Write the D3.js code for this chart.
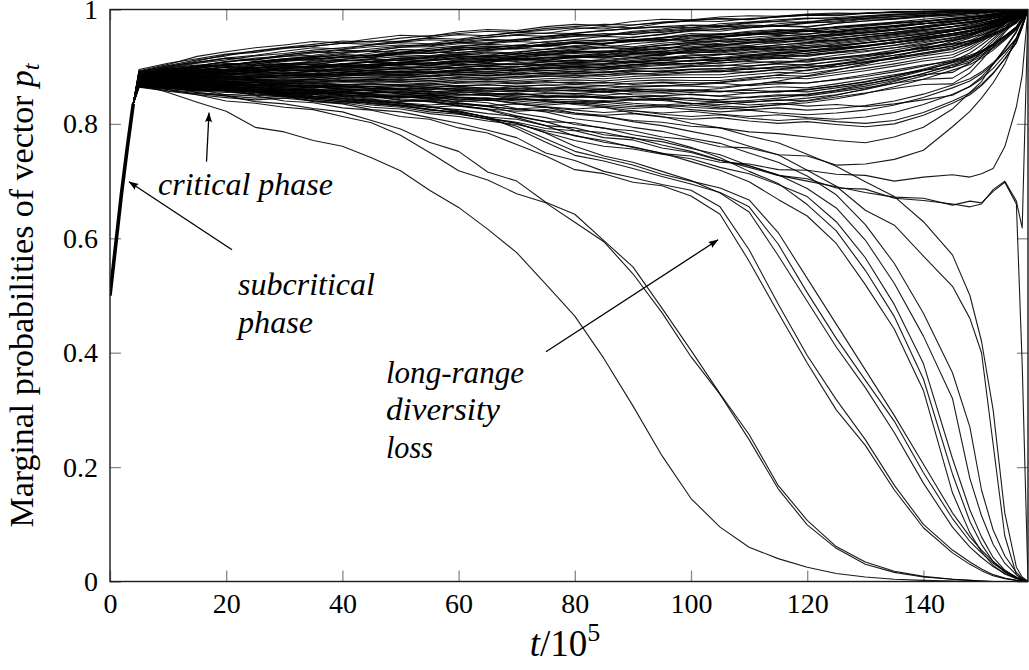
<!DOCTYPE html>
<html>
<head>
<meta charset="utf-8">
<script src="https://cdn.jsdelivr.net/npm/d3@7"></script>
<style>
body { margin: 0; background: #fff; }
text { font-family: "Liberation Serif", "Times New Roman", serif; fill: #000; }
</style>
</head>
<body>
<svg id="svg" width="1029" height="670"></svg>
<script>
// time axis is t/10^5, values are marginal probabilities in thousandths
var riseT = [0, 1, 2, 3, 4];
var riseP = [500, 590, 680, 760, 835];
var gridT = [5,10,15,20,25,30,35,40,45,50,55,60,65,70,75,80,85,90,95,100,
  105,110,115,120,125,130,135,140,145,148,150,152,154,156,157,158];

var xTicks = [0, 20, 40, 60, 80, 100, 120, 140];
var yTicks = [0, 0.2, 0.4, 0.6, 0.8, 1];
var yTickLabels = ["0", "0.2", "0.4", "0.6", "0.8", "1"];

// runs that drift upward and fix at 1
var upperRuns = [
  [893,904,918,926,933,938,944,942,949,955, 953,961,965,963,970,974,972,979,983,982, 987,989,988,992,994,993,996,997,998, 998,999,999,1000,1000,1000,1000],
  [890,900,910,921,925,932,936,941,945,944, 951,956,954,960,964,968,966,973,977,980, 979,984,987,990,989,993,995,996,997, 998,998,999,999,1000,1000,1000],
  [888,897,906,912,919,923,929,933,938,942, 940,947,951,955,953,959,963,967,970,968, 975,978,982,985,983,988,991,993,995, 996,997,998,999,999,1000,1000],
  [886,893,901,909,913,920,926,924,931,936, 939,943,941,948,952,956,955,960,964,968, 971,969,975,979,982,985,988,990,992, 994,995,997,998,999,1000,1000],
  [884,891,897,903,909,914,918,923,927,925, 932,936,940,944,942,948,953,951,957,962, 965,968,972,970,976,980,983,987,990, 992,994,996,997,999,999,1000],
  [882,889,894,900,905,910,913,918,916,923, 927,931,929,935,939,943,941,947,950,954, 952,958,962,966,969,973,977,980,984, 987,989,992,995,997,999,1000],
  [880,886,892,896,902,904,910,913,917,921, 919,925,928,932,930,937,940,944,948,946, 952,955,959,963,961,967,971,975,979, 982,985,988,992,995,998,1000],
  [879,884,889,893,897,901,905,903,909,912, 915,919,917,922,926,929,933,931,937,940, 944,948,946,952,956,960,965,969,974, 977,980,984,988,993,996,1000],
  [878,883,887,890,894,897,901,904,902,908, 911,914,918,916,921,925,928,926,932,935, 939,937,943,947,951,956,960,965,970, 973,977,981,986,991,995,1000],
  [876,880,884,888,891,895,893,898,901,905, 903,908,911,915,913,918,921,925,923,929, 932,936,934,940,944,949,954,959,964, 968,972,977,983,989,994,1000],
  [891,902,912,919,928,934,939,945,943,950, 954,958,962,960,967,970,974,973,978,981, 984,983,987,990,992,994,995,997,998, 998,999,999,1000,1000,1000,1000],
  [889,899,907,915,920,927,933,931,938,943, 947,945,952,956,959,958,963,967,970,973, 972,977,980,984,986,989,992,994,996, 997,998,999,999,1000,1000,1000],
  [887,895,902,908,915,918,924,929,927,934, 938,942,946,944,950,954,958,956,962,966, 969,973,971,976,980,984,987,990,993, 995,996,998,999,999,1000,1000],
  [885,892,898,902,908,913,911,917,921,925, 923,929,933,937,935,941,945,948,946,952, 956,960,963,961,967,971,975,980,984, 987,989,992,995,998,999,1000],
  [883,889,894,899,897,903,907,911,909,915, 918,922,920,926,930,933,937,935,941,945, 949,947,953,957,961,965,970,975,980, 983,986,990,993,997,999,1000],
  [880,887,890,895,899,897,902,905,909,907, 912,916,914,919,923,926,924,930,934,932, 938,942,946,950,954,959,964,969,975, 979,982,987,991,995,998,1000],
  [878,884,888,891,895,899,897,901,904,902, 907,910,908,913,917,915,920,923,921,927, 930,934,938,942,947,952,958,964,970, 975,979,984,989,994,998,1000],
  [877,882,885,889,887,892,895,893,897,900, 898,902,905,903,908,911,909,914,917,915, 921,924,928,932,937,942,948,955,962, 967,972,978,985,992,996,1000],
  [875,879,883,881,885,888,886,890,893,891, 895,898,896,900,903,901,905,908,906,911, 914,918,922,927,932,937,944,951,958, 963,968,975,983,990,995,1000],
  [873,877,880,878,882,885,883,887,889,887, 891,893,891,895,898,896,900,903,907,905, 910,914,919,924,929,935,942,949,957, 962,967,974,982,990,995,1000],
  [887,896,901,909,912,918,920,926,928,934, 935,940,942,947,948,953,954,959,960,965, 966,971,972,977,978,983,984,989,990, 993,994,996,997,999,999,1000],
  [883,892,897,904,907,913,916,921,919,925, 929,932,936,934,940,944,947,945,951,955, 958,956,962,966,969,972,976,979,983, 986,988,991,994,997,999,1000],
  [885,894,899,903,908,911,915,913,919,922, 926,924,930,933,937,935,941,944,948,946, 952,956,959,963,961,967,971,975,979, 982,985,988,992,995,998,1000],
  [879,888,893,899,902,906,904,910,913,911, 917,920,924,922,927,931,934,932,938,942, 945,943,949,953,957,961,966,970,975, 978,981,985,989,994,997,1000],
  [881,887,891,894,898,902,900,905,908,906, 911,914,912,917,921,919,924,928,926,931, 935,933,938,942,946,951,956,961,966, 970,974,979,985,991,995,1000],
  [875,883,887,891,895,893,898,901,899,904, 907,905,910,913,911,916,919,917,922,926, 924,929,933,937,942,947,952,957,963, 967,971,977,983,990,995,1000],
  [873,879,883,886,890,888,893,895,893,897, 900,898,902,905,903,907,910,908,913,916, 914,919,923,927,931,936,942,948,955, 959,964,970,978,986,993,1000],
  [871,876,880,883,881,885,888,886,890,892, 890,894,897,895,899,901,899,904,907,905, 910,913,917,921,926,931,937,944,951, 956,961,968,976,985,992,1000]
];

// more runs of the dense band
var bandRuns = [
  [895,906,914,922,927,933,936,941,939,945, 950,948,955,960,958,966,970,968,976,981, 984,982,988,991,990,994,996,995,998, 998,999,999,1000,1000,1000,1000],
  [892,901,908,915,912,921,926,930,935,938, 936,944,948,946,953,957,955,962,966,972, 970,976,979,977,984,987,990,992,995, 996,997,998,999,1000,1000,1000],
  [890,898,903,901,909,914,918,916,924,930, 928,935,939,937,944,947,945,952,956,964, 962,968,971,969,976,980,984,988,992, 994,995,997,998,999,1000,1000],
  [888,895,899,904,902,909,913,917,915,925, 923,929,933,931,938,941,939,947,951,958, 956,962,965,963,970,974,978,983,988, 990,992,995,997,999,1000,1000],
  [886,891,896,894,901,905,903,910,914,918, 916,922,926,924,931,935,933,940,944,950, 951,956,959,957,964,968,972,978,985, 988,990,993,996,998,999,1000],
  [885,889,893,891,897,901,899,905,908,912, 910,916,920,918,925,928,926,933,937,943, 946,951,955,953,959,963,968,975,982, 985,988,991,995,998,999,1000],
  [883,887,890,888,894,897,895,901,904,908, 906,912,916,914,920,923,921,928,932,938, 941,946,950,948,955,959,964,971,978, 982,985,989,993,997,999,1000],
  [882,885,888,886,891,894,892,897,900,904, 902,908,911,909,915,918,916,923,927,933, 936,941,945,943,950,955,960,967,975, 979,983,987,992,996,998,1000],
  [880,883,886,884,888,891,889,894,897,900, 898,903,906,904,909,912,910,916,920,926, 926,931,935,933,940,945,951,958,966, 971,976,981,987,994,997,1000],
  [879,881,884,882,886,889,887,891,894,897, 895,899,902,900,905,908,906,911,915,921, 921,926,930,928,935,941,947,954,962, 968,973,979,986,993,997,1000],
  [878,880,882,880,884,886,884,888,891,893, 891,895,898,896,901,904,902,907,911,916, 916,921,925,923,930,936,942,950,958, 964,970,976,984,992,996,1000],
  [877,879,881,879,882,884,882,886,888,890, 888,892,895,893,897,900,898,903,907,911, 911,916,920,918,925,931,938,946,955, 961,967,974,983,991,996,1000],
  [876,878,879,877,880,882,880,884,885,887, 885,889,891,889,893,896,894,899,902,906, 906,911,915,913,920,926,933,942,950, 957,964,972,981,990,995,1000],
  [875,876,877,875,878,879,877,881,882,884, 882,886,888,886,890,892,890,895,898,901, 901,906,910,908,915,921,929,938,946, 954,961,970,980,990,995,1000],
  [874,875,876,874,876,877,875,878,879,881, 879,883,885,883,886,888,886,891,893,896, 896,901,905,903,910,917,925,934,941, 950,958,968,979,989,995,1000],
  [873,874,875,872,874,875,873,876,877,878, 876,880,882,880,883,885,883,887,889,891, 891,896,900,898,905,912,920,929,936, 946,955,966,978,989,995,1000],
  [872,873,873,871,872,873,871,874,874,875, 873,877,878,876,879,881,879,883,885,886, 886,891,895,893,900,907,915,924,931, 942,952,964,977,988,994,1000],
  [871,871,872,869,871,871,869,872,872,872, 870,874,875,873,876,877,875,879,881,881, 881,886,890,888,895,902,910,919,926, 938,949,962,976,988,994,1000],
  [870,870,870,867,869,869,866,869,869,869, 867,871,872,870,872,873,871,875,877,876, 876,881,885,883,890,897,905,914,921, 934,946,960,975,987,994,1000],
  [869,868,868,865,867,866,863,866,866,866, 864,867,868,866,868,869,867,871,873,872, 872,877,881,879,886,893,901,910,916, 930,943,958,974,987,994,1000],
  [868,867,866,863,865,863,860,863,862,862, 860,863,863,861,863,864,862,866,867,866, 864,869,873,871,878,886,894,903,909, 924,938,954,971,986,993,1000],
  [867,866,864,861,863,861,857,860,858,858, 856,859,858,856,858,858,856,860,861,858, 856,861,865,863,870,878,886,894,899, 915,931,949,968,985,993,1000],
  [866,864,862,859,860,858,854,857,855,855, 852,855,854,851,853,853,850,854,854,851, 849,854,858,856,863,870,878,886,890, 907,925,945,966,984,992,1000],
  [865,863,860,857,858,855,851,854,852,852, 849,851,850,847,848,848,845,848,848,844, 842,847,851,849,856,863,871,878,880, 898,918,940,963,982,991,1000],
  [864,862,858,855,856,852,848,851,848,848, 845,847,845,842,843,842,839,842,841,836, 834,838,842,840,847,854,862,869,870, 889,911,935,960,981,991,1000],
  [886,894,900,906,904,912,916,921,919,930, 928,934,932,938,936,942,940,946,944,955, 953,958,956,962,960,967,971,975,980, 983,986,990,994,997,999,1000],
  [884,890,895,900,898,905,908,912,910,915, 913,919,917,923,921,927,925,931,929,940, 938,943,941,947,945,952,957,963,970, 975,980,985,991,996,998,1000],
  [880,885,889,893,891,897,899,903,901,905, 903,909,907,913,911,917,915,921,919,930, 928,933,931,937,935,942,947,954,962, 968,973,980,987,994,997,1000],
  [878,880,882,884,882,886,884,888,886,885, 883,887,885,889,887,891,889,893,891,895, 893,898,896,902,900,908,914,922,930, 941,951,963,976,988,994,1000],
  [869,865,862,864,859,861,856,858,860,860, 855,857,852,854,849,851,846,848,843,835, 838,833,836,831,834,830,835,842,850, 866,882,904,930,960,985,1000]
];

// runs that stay near the knee level, then fix at 1
var middleRuns = [
  [885,890,893,896,893,898,901,899,904,907, 905,910,913,911,916,919,917,922,925,923, 928,931,929,934,938,942,947,952,958, 962,966,971,978,986,992,1000],
  [881,885,888,886,891,894,892,896,899,897, 902,904,902,907,910,908,913,916,914,919, 922,920,925,929,933,937,942,948,954, 958,963,969,976,984,991,1000],
  [877,881,884,887,885,889,892,890,894,896, 894,899,901,899,904,906,904,909,911,909, 914,917,915,920,924,928,933,939,946, 951,956,963,971,981,989,1000],
  [874,878,880,883,881,885,887,885,889,891, 889,893,895,893,897,899,897,901,904,902, 907,909,907,912,916,921,926,933,940, 945,951,958,967,978,988,1000],
  [872,875,878,876,880,882,880,884,886,884, 888,890,888,892,894,892,896,898,896,900, 903,901,906,910,914,919,925,932,939, 944,950,957,967,978,988,1000],
  [870,873,875,873,877,879,877,880,882,880, 884,886,884,887,889,887,891,893,891,895, 897,895,900,904,909,914,920,928,936, 942,948,956,966,977,988,1000],
  [868,870,872,870,873,875,873,876,878,876, 879,881,879,882,884,882,886,888,886,890, 892,890,895,899,904,909,916,924,933, 939,946,954,964,976,987,1000],
  [871,868,870,866,868,864,867,863,865,861, 864,860,862,858,861,857,860,856,858,855, 857,854,856,860,866,874,884,896,910, 918,927,939,953,969,984,1000],
  [874,872,874,870,873,869,872,868,871,867, 870,866,869,865,868,864,867,864,866,869, 873,879,886,894,903,913,924,936,948, 956,963,972,980,989,995,1000],
  [873,870,867,870,866,868,864,867,862,865, 861,863,859,862,857,860,856,859,855,858, 862,868,875,884,894,905,917,930,944, 953,961,970,979,988,994,1000]
];

// runs that sag through the lower band before recovering to 1
var lowerRuns = [
  [876,879,876,880,877,875,878,874,877,873, 876,872,875,871,874,870,873,869,872,868, 871,867,870,872,877,883,891,901,912, 920,928,939,953,969,984,1000],
  [872,874,871,873,869,871,867,869,865,868, 864,866,862,865,861,863,859,862,858,860, 857,859,856,860,866,873,883,894,907, 915,925,937,951,968,983,1000],
  [870,871,868,866,869,865,863,866,862,860, 863,858,856,859,855,853,856,851,849,852, 848,846,849,852,858,866,876,888,902, 911,921,934,949,967,983,1000],
  [868,868,865,862,864,860,858,861,857,854, 857,852,850,853,848,846,849,844,842,845, 840,838,841,845,851,860,871,884,899, 908,918,932,948,966,982,1000],
  [866,864,861,858,860,855,853,856,851,848, 851,846,843,846,841,838,841,836,833,836, 831,829,833,837,844,853,865,878,894, 904,915,929,946,965,982,1000],
  [869,866,863,865,861,858,861,857,854,857, 853,850,853,849,846,849,845,842,845,841, 838,841,845,851,859,869,880,893,908, 917,927,940,954,970,985,1000],
  [867,863,859,861,857,853,856,851,847,850, 846,842,845,840,836,839,834,830,833,829, 826,829,834,841,850,861,874,888,904, 914,924,938,953,969,984,1000],
  [869,866,862,858,861,856,852,855,850,846, 849,844,841,844,839,835,838,833,830,833, 828,825,828,824,827,832,840,852,868, 879,891,907,926,950,972,1000],
  [867,862,857,860,855,851,854,849,845,848, 843,839,842,837,833,836,831,827,830,825, 821,824,819,816,819,824,833,846,863, 875,888,905,925,949,972,1000],
  [866,860,855,851,854,849,845,848,843,839, 842,836,832,835,830,826,829,823,819,822, 817,813,816,811,808,812,820,834,852, 865,879,897,920,946,971,1000],
  [865,858,853,849,845,848,843,839,842,837, 833,836,830,826,829,824,820,823,817,813, 816,810,806,809,804,801,806,820,840, 854,869,889,914,942,969,1000],
  [864,857,851,846,842,845,840,836,839,833, 829,832,826,822,825,819,815,818,812,808, 811,805,801,804,799,795,800,815,836, 851,867,888,913,942,969,1000],
  [880,875,871,865,863,857,856,849,848,841, 839,834,831,825,823,817,813,806,803,796, 793,786,783,777,771,767,777,794,826, 855,874,905,932,962,980,1000],
  [878,873,865,863,857,854,848,845,839,836, 829,825,818,813,804,802,792,788,777,772, 760,758,746,744,728,730,738,754,795, 822,845,872,905,950,975,1000],
  [873,867,859,857,850,847,841,837,829,826, 818,813,805,799,788,780,768,760,748,744, 733,730,720,719,712,710,700,707,711, 707,713,722,760,830,885,1000],
  [875,869,862,859,852,850,843,839,833,829, 821,817,809,803,792,788,776,772,758,750, 736,727,710,704,688,686,670,666,660, 655,660,685,700,665,618,1000]
];

// runs that lose the bit and fix at 0
var lostRuns = [
  [870,855,838,822,794,786,771,761,741,718, 684,654,616,575,520,464,390,307,220,145, 95,60,40,25,14,8,4,2,1, 0,0,0,0,0,0,0],
  [872,860,851,840,836,829,825,813,802,780, 750,718,702,678,662,628,594,538,470,393, 327,248,162,99,58,30,16,8,4, 2,1,0,0,0,0,0],
  [874,866,855,849,839,835,827,821,806,791, 768,752,716,700,663,642,596,550,478,404, 328,257,168,107,61,34,18,9,4, 2,1,0,0,0,0,0],
  [874,866,860,851,849,840,837,828,824,813, 808,793,784,764,744,720,713,698,692,674, 642,560,470,382,300,238,160,94,50, 30,19,10,5,2,1,0],
  [876,870,863,858,851,849,839,835,825,821, 811,801,789,776,749,736,717,706,694,684, 655,580,485,395,318,248,168,100,55, 34,22,12,6,2,1,0],
  [878,873,866,863,856,853,847,844,837,833, 825,819,809,801,784,761,744,733,717,701, 679,646,570,490,410,339,260,172,95, 60,42,26,14,6,3,0],
  [880,874,870,863,861,854,852,844,842,835, 831,821,812,792,768,745,735,722,708,695, 680,655,590,505,425,352,280,190,110, 70,50,32,18,7,3,0],
  [877,870,866,859,856,850,846,841,836,831, 826,818,808,796,774,752,740,728,712,700, 688,667,610,530,450,370,290,205,120, 78,55,35,19,8,3,0],
  [882,876,873,867,865,859,857,851,849,842, 839,831,825,811,797,779,771,759,749,734, 719,699,668,639,591,519,441,334,155, 85,52,28,13,5,2,0],
  [884,879,877,870,868,863,861,856,853,847, 845,837,831,819,811,799,793,781,773,759, 741,717,696,659,613,544,463,354,188, 105,65,35,16,6,2,0],
  [879,874,867,865,858,856,849,847,840,837, 829,823,811,801,785,771,761,756,747,739, 724,713,694,673,629,566,484,381,215, 125,78,42,20,7,3,0],
  [883,877,875,869,867,861,859,853,851,844, 841,832,826,814,804,789,785,775,769,757, 746,727,711,687,653,597,521,429,320, 180,115,65,32,12,5,0],
  [886,881,880,874,873,867,866,860,858,852, 849,841,837,827,821,809,803,794,787,775, 766,749,733,709,676,624,556,469,365, 270,160,90,45,16,6,0],
  [885,881,879,874,872,867,866,861,859,854, 852,846,843,835,829,819,813,804,797,787, 777,761,746,719,691,649,623,569,516, 460,400,240,80,12,4,0],
  [888,884,883,878,877,872,871,866,865,860, 858,852,850,843,841,834,829,819,813,801, 793,779,767,747,726,699,673,629,571, 500,420,300,120,25,8,0],
  [877,872,864,861,855,852,845,842,835,832, 824,821,812,808,797,793,781,776,763,752, 737,724,710,700,690,680,672,670,658, 665,662,682,698,660,380,0]
];

// annotations, in axis coordinates
var noteText = ["critical phase", "subcritical", "phase", "long-range", "diversity", "loss"];
var noteAt = [[8.26, 0.676], [22.03, 0.501], [22.03, 0.4347], [47.5, 0.3474], [47.5, 0.2827], [47.5, 0.2163]];
var noteWidth = [175, 137, 75, 138, 114, 47];
var arrowFrom = [[16.61, 0.7337], [21.0, 0.5799], [75.04, 0.4016]];
var arrowTo = [[17.04, 0.8194], [3.27, 0.6988], [104.65, 0.5974]];

var svg = d3.select("#svg");
var plotL = 110, plotR = 1028, plotT = 9.5, plotB = 581.5;
var serif = "'Liberation Serif', 'Times New Roman', serif";
var x = d3.scaleLinear().domain([0, 158]).range([plotL, plotR]);
var y = d3.scaleLinear().domain([0, 1]).range([plotB, plotT]);

svg.append("rect").attr("width", 1029).attr("height", 670).attr("fill", "#fff");

var defs = svg.append("defs");
defs.append("clipPath").attr("id", "plotclip")
  .append("rect")
  .attr("x", plotL).attr("y", plotT - 1)
  .attr("width", plotR - plotL).attr("height", plotB - plotT + 2);
defs.append("marker")
  .attr("id", "tip")
  .attr("viewBox", "0 0 10 8")
  .attr("refX", 9.5).attr("refY", 4)
  .attr("markerWidth", 11).attr("markerHeight", 8)
  .attr("markerUnits", "userSpaceOnUse")
  .attr("orient", "auto")
  .append("path")
  .attr("d", "M0,0.4 Q2.5,4 0,7.6 L10,4 Z")
  .attr("fill", "#000");

// ticks on all four sides, pointing inward
function styleTicks(g) {
  g.select(".domain").remove();
  g.selectAll(".tick line").attr("stroke", "#8a8a8a").attr("stroke-width", 1.3);
  g.selectAll(".tick text")
    .attr("font-family", serif)
    .attr("font-size", 28).attr("fill", "#000");
}
svg.append("g").attr("transform", "translate(0," + plotB + ")")
  .call(d3.axisBottom(x).tickValues(xTicks).tickSize(-11).tickPadding(12).tickFormat(d3.format("d")))
  .call(styleTicks);
svg.append("g").attr("transform", "translate(0," + plotT + ")")
  .call(d3.axisTop(x).tickValues(xTicks).tickSize(-11).tickFormat(""))
  .call(styleTicks);
svg.append("g").attr("transform", "translate(" + plotL + ",0)")
  .call(d3.axisLeft(y).tickValues(yTicks).tickSize(-11).tickPadding(12)
    .tickFormat(function(d, i) { return yTickLabels[i]; }))
  .call(styleTicks);
svg.append("g").attr("transform", "translate(" + plotR + ",0)")
  .call(d3.axisRight(y).tickValues(yTicks).tickSize(-11).tickFormat(""))
  .call(styleTicks);

// the runs
var line = d3.line()
  .defined(function(d) { return d[1] != null; })
  .x(function(d) { return x(d[0]); })
  .y(function(d) { return y(d[1] / 1000); });
function runPoints(r) {
  var pts = riseT.map(function(t, i) { return [t, riseP[i]]; });
  return pts.concat(gridT.map(function(t, i) { return [t, r[i]]; }));
}
var allRuns = upperRuns.concat(bandRuns, middleRuns, lowerRuns, lostRuns);
var plot = svg.append("g").attr("clip-path", "url(#plotclip)");
plot.selectAll("path.run")
  .data(allRuns)
  .enter().append("path")
  .attr("class", "run")
  .attr("d", function(r) { return line(runPoints(r)); })
  .attr("fill", "none")
  .attr("stroke", "#000")
  .attr("stroke-opacity", 0.9)
  .attr("stroke-width", 1.1)
  .attr("stroke-linejoin", "round");
// the shared subcritical climb is many runs on top of each other
plot.append("path")
  .attr("d", line(riseT.map(function(t, i) { return [t, riseP[i]]; })))
  .attr("fill", "none")
  .attr("stroke", "#000")
  .attr("stroke-width", 3.6);

// frame
svg.append("rect")
  .attr("x", plotL).attr("y", plotT)
  .attr("width", plotR - plotL).attr("height", plotB - plotT)
  .attr("fill", "none").attr("stroke", "#1a1a1a").attr("stroke-width", 1.4);

// axis labels
var ylab = svg.append("text")
  .attr("transform", "translate(33," + ((plotT + plotB) / 2) + ") rotate(-90)")
  .attr("text-anchor", "middle")
  .attr("font-family", serif)
  .attr("font-size", 34)
  .attr("textLength", 464)
  .attr("lengthAdjust", "spacingAndGlyphs");
ylab.append("tspan").text("Marginal probabilities of vector ");
ylab.append("tspan").attr("font-style", "italic").text("p");
ylab.append("tspan").attr("font-style", "italic").attr("font-size", 24).attr("dy", 6).text("t");

var xlab = svg.append("text")
  .attr("x", (plotL + plotR) / 2 - 4).attr("y", 656)
  .attr("text-anchor", "middle")
  .attr("font-family", serif)
  .attr("font-size", 37);
xlab.append("tspan").attr("font-style", "italic").text("t");
xlab.append("tspan").text("/10");
xlab.append("tspan").attr("font-size", 26).attr("dy", -15).text("5");

// annotations
svg.selectAll("text.note")
  .data(noteText)
  .enter().append("text")
  .attr("class", "note")
  .attr("x", function(d, i) { return x(noteAt[i][0]); })
  .attr("y", function(d, i) { return y(noteAt[i][1]); })
  .attr("font-family", serif)
  .attr("font-style", "italic")
  .attr("font-size", 31)
  .attr("textLength", function(d, i) { return noteWidth[i]; })
  .attr("lengthAdjust", "spacingAndGlyphs")
  .text(function(d) { return d; });

svg.selectAll("line.arrow")
  .data(arrowFrom)
  .enter().append("line")
  .attr("class", "arrow")
  .attr("x1", function(d) { return x(d[0]); })
  .attr("y1", function(d) { return y(d[1]); })
  .attr("x2", function(d, i) { return x(arrowTo[i][0]); })
  .attr("y2", function(d, i) { return y(arrowTo[i][1]); })
  .attr("stroke", "#000")
  .attr("stroke-width", 1.3)
  .attr("marker-end", "url(#tip)");
</script>
</body>
</html>
